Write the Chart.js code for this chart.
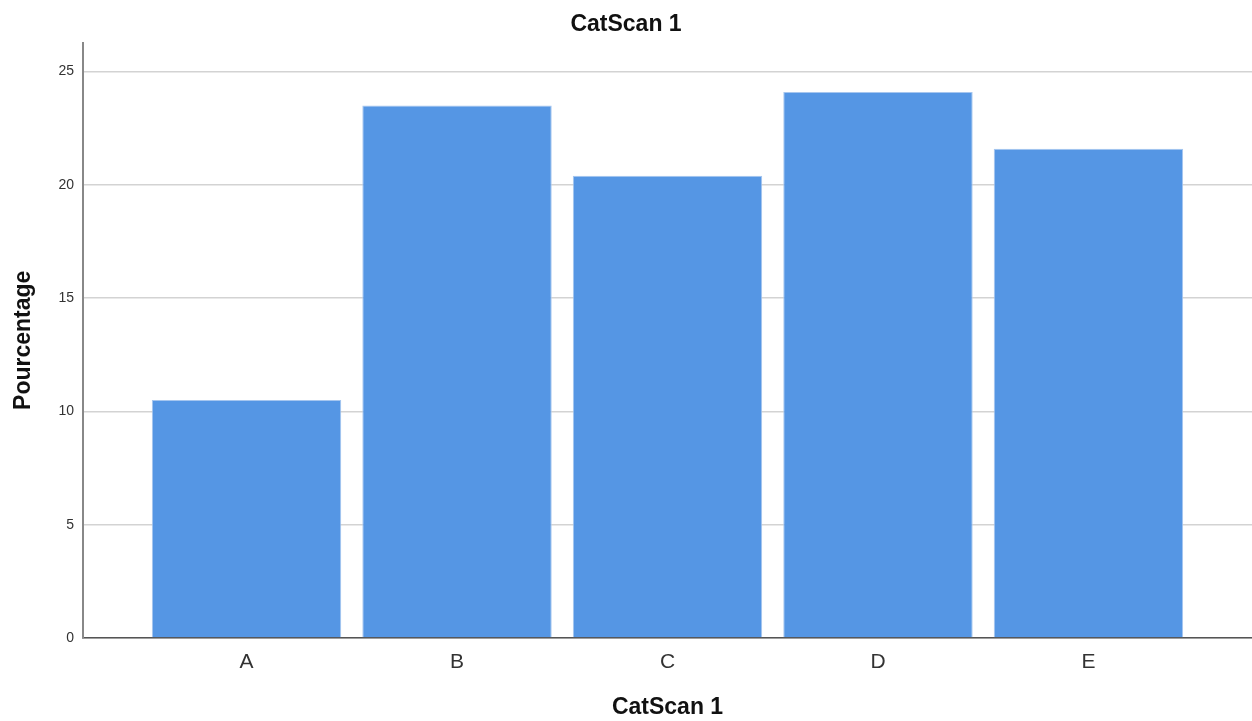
<!DOCTYPE html>
<html>
<head>
<meta charset="utf-8">
<script src="https://cdn.jsdelivr.net/npm/chart.js@4/dist/chart.umd.min.js"></script>
<style>
  html, body { margin: 0; padding: 0; background: #fff; }
  #wrap { width: 1252px; height: 721px; }
</style>
</head>
<body>
<div id="wrap"><canvas id="bar-chart"></canvas></div>
<script>
// values
const categories = ["A", "B", "C", "D", "E"];
const percentages = [10.5, 23.5, 20.4, 24.1, 21.6];
const yTicks = [0, 5, 10, 15, 20, 25];

const font = "'Liberation Sans', Arial, sans-serif";

function drawBarChart()
{
    let points = [];
    for (let i = 0; i < categories.length; i++) {
        points.push({ x: i, y: percentages[i] });
    }

    new Chart(document.getElementById("bar-chart"), {
        type: 'bar',
        data: {
            datasets: [{
                data: points,
                backgroundColor: "#5596e4",
                borderColor: "#a6c6ef",
                borderWidth: 1,
                categoryPercentage: 1,
                barPercentage: 0.9
            }]
        },
        options: {
            responsive: true,
            maintainAspectRatio: false,
            animation: false,
            layout: { padding: 0 },
            plugins: {
                legend: { display: false },
                tooltip: { enabled: false },
                title: {
                    display: true,
                    text: 'CatScan 1',
                    color: '#111',
                    font: { family: font, size: 23, weight: 'bold' },
                    padding: { top: 11, bottom: 4 }
                }
            },
            scales: {
                x: {
                    type: 'linear',
                    offset: false,
                    min: -0.777,
                    max: 4.777,
                    afterBuildTicks: axis => {
                        axis.ticks = categories.map((c, i) => ({ value: i }));
                    },
                    afterFit: axis => { axis.height = 83; },
                    ticks: {
                        callback: v => categories[v],
                        color: '#333',
                        font: { family: font, size: 21 },
                        padding: 12,
                        maxRotation: 0,
                        autoSkip: false
                    },
                    grid: { display: false, drawTicks: false },
                    border: { display: true, color: '#555', width: 1.5 },
                    title: {
                        display: true,
                        text: 'CatScan 1',
                        color: '#111',
                        font: { family: font, size: 23, weight: 'bold' },
                        padding: { top: 0, bottom: 0 }
                    }
                },
                y: {
                    min: 0,
                    max: 26.28,
                    afterBuildTicks: axis => {
                        axis.ticks = yTicks.map(v => ({ value: v }));
                    },
                    afterFit: axis => { axis.width = 83; },
                    ticks: {
                        color: '#333',
                        font: { family: font, size: 14 },
                        padding: 9
                    },
                    grid: { color: '#d3d3d3', lineWidth: 1.5, drawTicks: false },
                    border: { display: true, color: '#888', width: 2 },
                    title: {
                        display: true,
                        text: 'Pourcentage',
                        color: '#111',
                        font: { family: font, size: 23, weight: 'bold' },
                        padding: { top: 10, bottom: 0 }
                    }
                }
            }
        }
    });
}

document.addEventListener('DOMContentLoaded', drawBarChart);
</script>
</body>
</html>
